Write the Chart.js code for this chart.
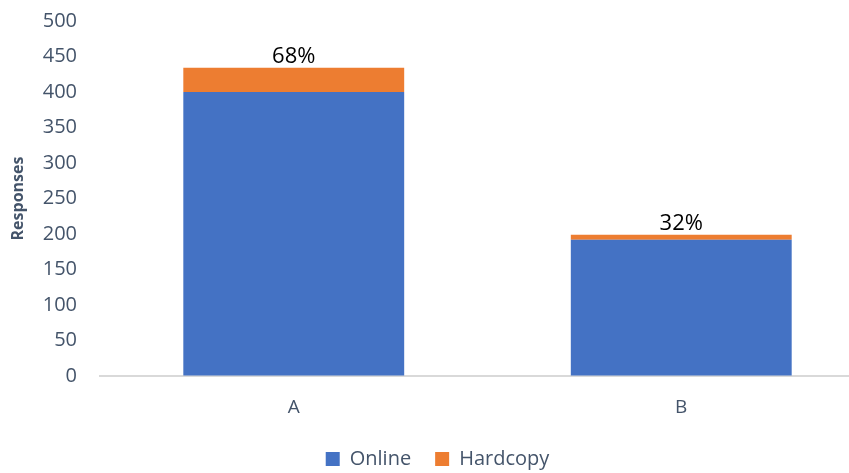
<!DOCTYPE html>
<html><head><meta charset="utf-8">
<script src="https://cdn.jsdelivr.net/npm/chart.js@4"></script>
<style>html,body{margin:0;padding:0;overflow:hidden;background:#fff}#wrap{width:849px;height:473px;overflow:hidden}</style>
</head><body><div id="wrap"><canvas id="c" width="875" height="479"></canvas></div>
<script>
const categories = ["A", "B"];
const online = [400, 192];
const hardcopy = [34, 7];
const shareLabels = ["68%", "32%"];
const yTicks = [0, 50, 100, 150, 200, 250, 300, 350, 400, 450, 500];

const textColor = "#44546A";
const labelPlugin = {
  id: "shareLabels",
  afterDatasetsDraw(chart) {
    const ctx = chart.ctx;
    const meta = chart.getDatasetMeta(1);
    ctx.save();
    ctx.font = "22px 'Open Sans'";
    ctx.fillStyle = "#000";
    ctx.textAlign = "center";
    ctx.textBaseline = "alphabetic";
    meta.data.forEach((el, i) => {
      ctx.fillText(shareLabels[i], el.x, el.y - 5);
    });
    ctx.restore();
  }
};

new Chart(document.getElementById("c"), {
  type: "bar",
  data: {
    labels: categories,
    datasets: [
      { label: "Online", data: online, backgroundColor: "#4472C4", categoryPercentage: 1, barPercentage: 0.57 },
      { label: "Hardcopy", data: hardcopy, backgroundColor: "#ED7D31", categoryPercentage: 1, barPercentage: 0.57 }
    ]
  },
  options: {
    responsive: false,
    animation: false,
    devicePixelRatio: 1,
    layout: { padding: { top: 21, left: 0, right: 0, bottom: 0 } },
    plugins: {
      legend: {
        position: "bottom",
        labels: { boxWidth: 14, boxHeight: 14, color: textColor, font: { family: "Open Sans", size: 20 }, padding: 24 }
      },
      tooltip: { enabled: false }
    },
    scales: {
      x: {
        stacked: true,
        grid: { display: false },
        border: { display: true, color: "#D9D9D9", width: 2 },
        ticks: { color: textColor, font: { family: "Open Sans", size: 19 }, padding: 12 },
        afterFit(scale) { scale.height = 49; }
      },
      y: {
        stacked: true,
        min: 0, max: 500,
        afterBuildTicks(scale) { scale.ticks = yTicks.map(v => ({ value: v })); },
        grid: { display: true, drawOnChartArea: false, drawTicks: true, tickLength: 23, color: "rgba(0,0,0,0)" },
        border: { display: false },
        ticks: { color: textColor, font: { family: "Open Sans", size: 20 }, padding: 0 },
        title: { display: true, text: "Responses", color: textColor, font: { family: "Open Sans", size: 16, weight: "bold" }, padding: 9 },
        afterFit(scale) { scale.width = 100; }
      }
    }
  },
  plugins: [labelPlugin]
});
</script></body></html>
